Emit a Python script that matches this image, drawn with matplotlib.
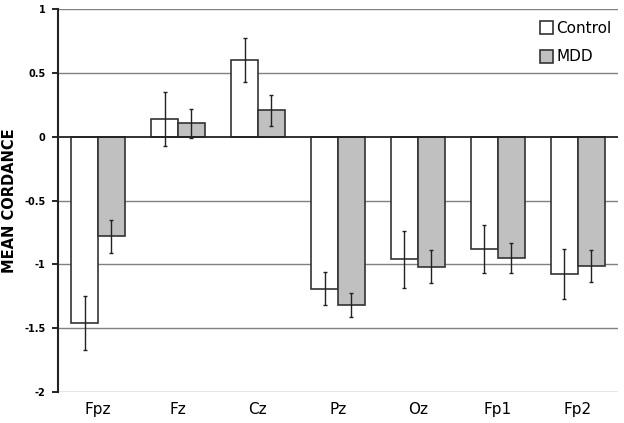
import numpy as np
import matplotlib as mpl
import matplotlib.pyplot as plt

mpl.use('Agg')

electrodes = ["Fpz", "Fz", "Cz", "Pz", "Oz", "Fp1", "Fp2"]
control = [-1.46, 0.14, 0.60, -1.19, -0.96, -0.88, -1.075]
control_err = [0.21, 0.21, 0.17, 0.127, 0.225, 0.186, 0.197]
mdd = [-0.78, 0.105, 0.205, -1.318, -1.018, -0.95, -1.016]
mdd_err = [0.13, 0.115, 0.124, 0.095, 0.128, 0.117, 0.125]
yticks = [1, 0.5, 0, -0.5, -1, -1.5, -2]
yticklabels = ["1", "0.5", "0", "-0.5", "-1", "-1.5", "-2"]

fig = plt.figure(figsize=(6.24, 4.23), dpi=100)
ax = fig.add_axes([0.093, 0.073, 0.897, 0.906])

x = np.arange(len(electrodes))
w = 0.335
for yv in [1, 0.5, -0.5, -1, -1.5, -2]:
    ax.axhline(yv, color='#808080', lw=1.0, zorder=0)

ax.bar(x - w / 2, control, w, color='white', edgecolor='#333333', lw=1.2,
       label='Control', zorder=2)
ax.bar(x + w / 2, mdd, w, color='#c0c0c0', edgecolor='#333333', lw=1.2,
       label='MDD', zorder=2)
ax.errorbar(x - w / 2, control, yerr=control_err, fmt='none', ecolor='#222222',
            elinewidth=1, capsize=1.5, zorder=3)
ax.errorbar(x + w / 2, mdd, yerr=mdd_err, fmt='none', ecolor='#222222',
            elinewidth=1, capsize=1.5, zorder=3)
ax.axhline(0, color='#222222', lw=1.3, zorder=4)

ax.set_xlim(-0.5, len(electrodes) - 0.5)
ax.set_ylim(-2, 1)
ax.set_yticks(yticks)
ax.set_yticklabels(yticklabels, fontsize=7, fontweight='bold')
ax.set_xticks(x)
ax.set_xticklabels(electrodes, fontsize=11)
ax.tick_params(axis='x', length=0, pad=7)
ax.tick_params(axis='y', length=4, width=1.2, direction='out', pad=5)
for s in ['top', 'right', 'bottom']:
    ax.spines[s].set_visible(False)
ax.spines['left'].set_linewidth(1.5)
ax.spines['left'].set_color('#222222')
ax.set_ylabel("MEAN CORDANCE", fontsize=10.5, fontweight='bold', labelpad=5)

ax.legend(loc='upper right', frameon=False, fontsize=11, handlelength=0.9,
          handleheight=0.9, handletextpad=0.2, labelspacing=0.9,
          bbox_to_anchor=(1.0, 0.985), borderaxespad=0)

plt.savefig("out.png", dpi=100)
